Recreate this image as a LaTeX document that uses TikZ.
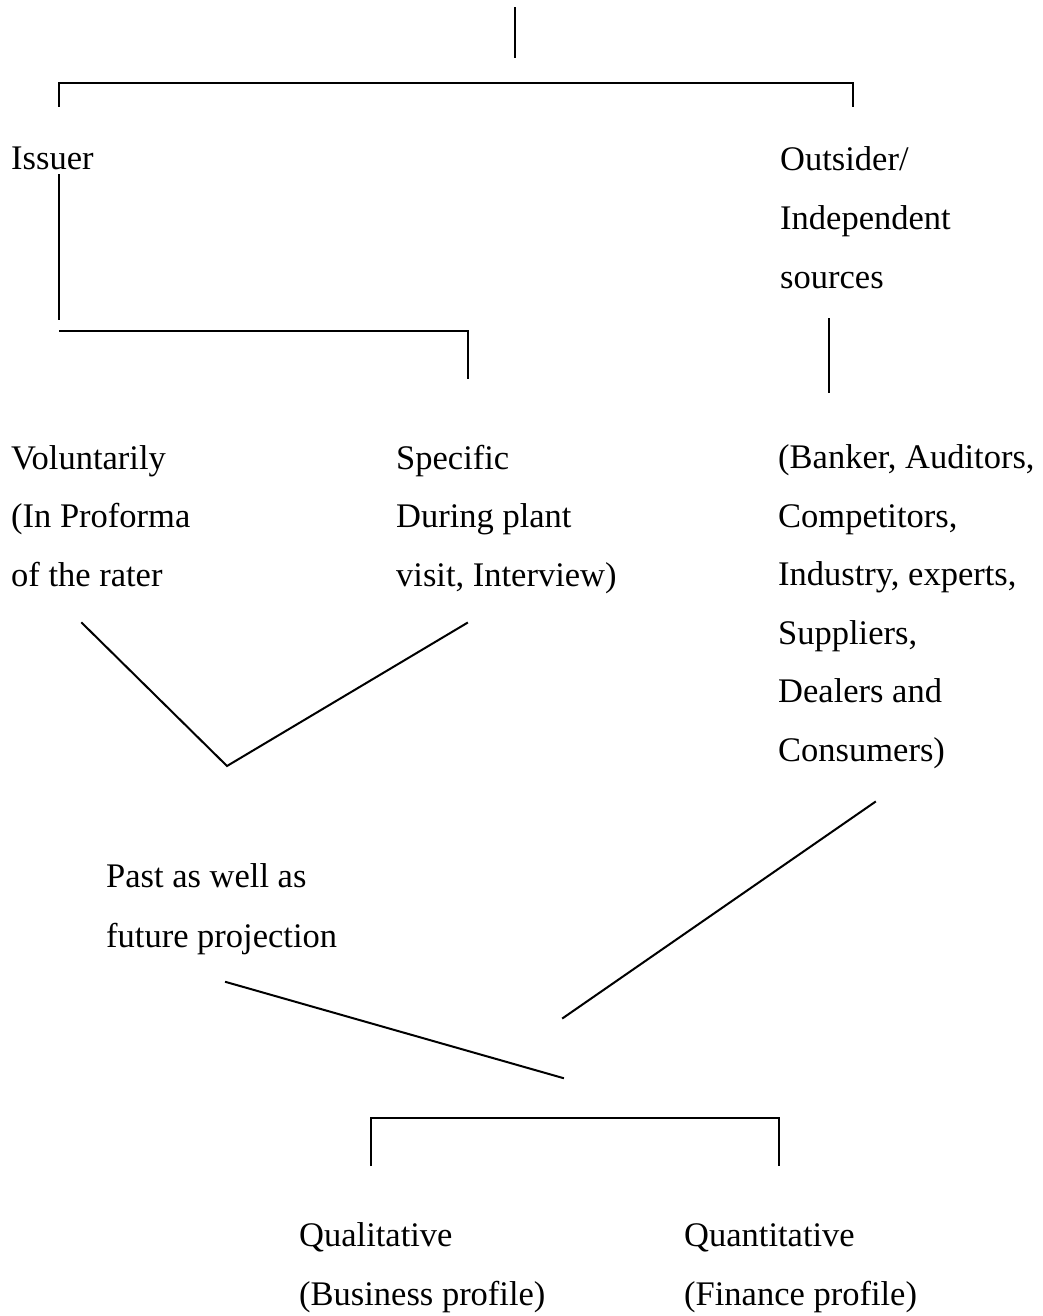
\documentclass[tikz,border=0pt]{standalone}
\usepackage{fontspec}
\setmainfont{Liberation Serif}
\begin{document}
\begin{tikzpicture}[x=1pt,y=-1pt,
  lbl/.style={anchor=base west,inner sep=0pt,align=left,
    font=\fontsize{34.5}{58.5}\selectfont},
  ln/.style={line width=2pt,line cap=rect}]
\useasboundingbox (0,0) rectangle (1042,1316);
% texts (anchor = baseline of the last line)
\node[lbl] (issuer) at (11,170) {Issuer};
\node[lbl,font=\fontsize{34.5}{59}\selectfont] (outsider) at (780,288) {Outsider/\\Independent\\sources};
\node[lbl] (vol) at (11,586) {Voluntarily\\(In Proforma\\of the rater};
\node[lbl] (spec) at (396,586) {Specific\\During plant\\visit, Interview)};
\node[lbl] (banker) at (778,761) {(Banker, Auditors,\\Competitors,\\Industry, experts,\\Suppliers,\\Dealers and\\Consumers)};
\node[lbl,font=\fontsize{34.5}{60}\selectfont] (past) at (106,947) {Past as well as\\future projection};
\node[lbl] (qual) at (299,1305) {Qualitative\\(Business profile)};
\node[lbl] (quan) at (684,1305) {Quantitative\\(Finance profile)};
% coordinates
\coordinate (t1) at (515,8);
\coordinate (t2) at (515,57);
\coordinate (b1l) at (59,107);
\coordinate (b1a) at (59,83);
\coordinate (b1b) at (853,83);
\coordinate (b1r) at (853,107);
\coordinate (i1) at (59,175);
\coordinate (i2) at (59,319);
\coordinate (b2a) at (59,331);
\coordinate (b2b) at (468,331);
\coordinate (b2c) at (468,379);
\coordinate (o1) at (829,319);
\coordinate (o2) at (829,392);
\coordinate (v1) at (82,623);
\coordinate (v2) at (227,766);
\coordinate (v3) at (467,623);
\coordinate (d1) at (875,802);
\coordinate (d2) at (563,1018);
\coordinate (p1) at (226,982);
\coordinate (p2) at (563,1078);
\coordinate (b3l) at (371,1166);
\coordinate (b3a) at (371,1118);
\coordinate (b3b) at (779,1118);
\coordinate (b3r) at (779,1166);
% lines
\draw[ln] (t1) -- (t2);
\draw[ln,line cap=butt] (b1l) -- (b1a) -- (b1b) -- (b1r);
\draw[ln] (i1) -- (i2);
\draw[ln,line cap=butt] (b2a) -- (b2b) -- (b2c);
\draw[ln] (o1) -- (o2);
\draw[ln] (v1) -- (v2) -- (v3);
\draw[ln] (d1) -- (d2);
\draw[ln] (p1) -- (p2);
\draw[ln,line cap=butt] (b3l) -- (b3a) -- (b3b) -- (b3r);
\end{tikzpicture}
\end{document}
